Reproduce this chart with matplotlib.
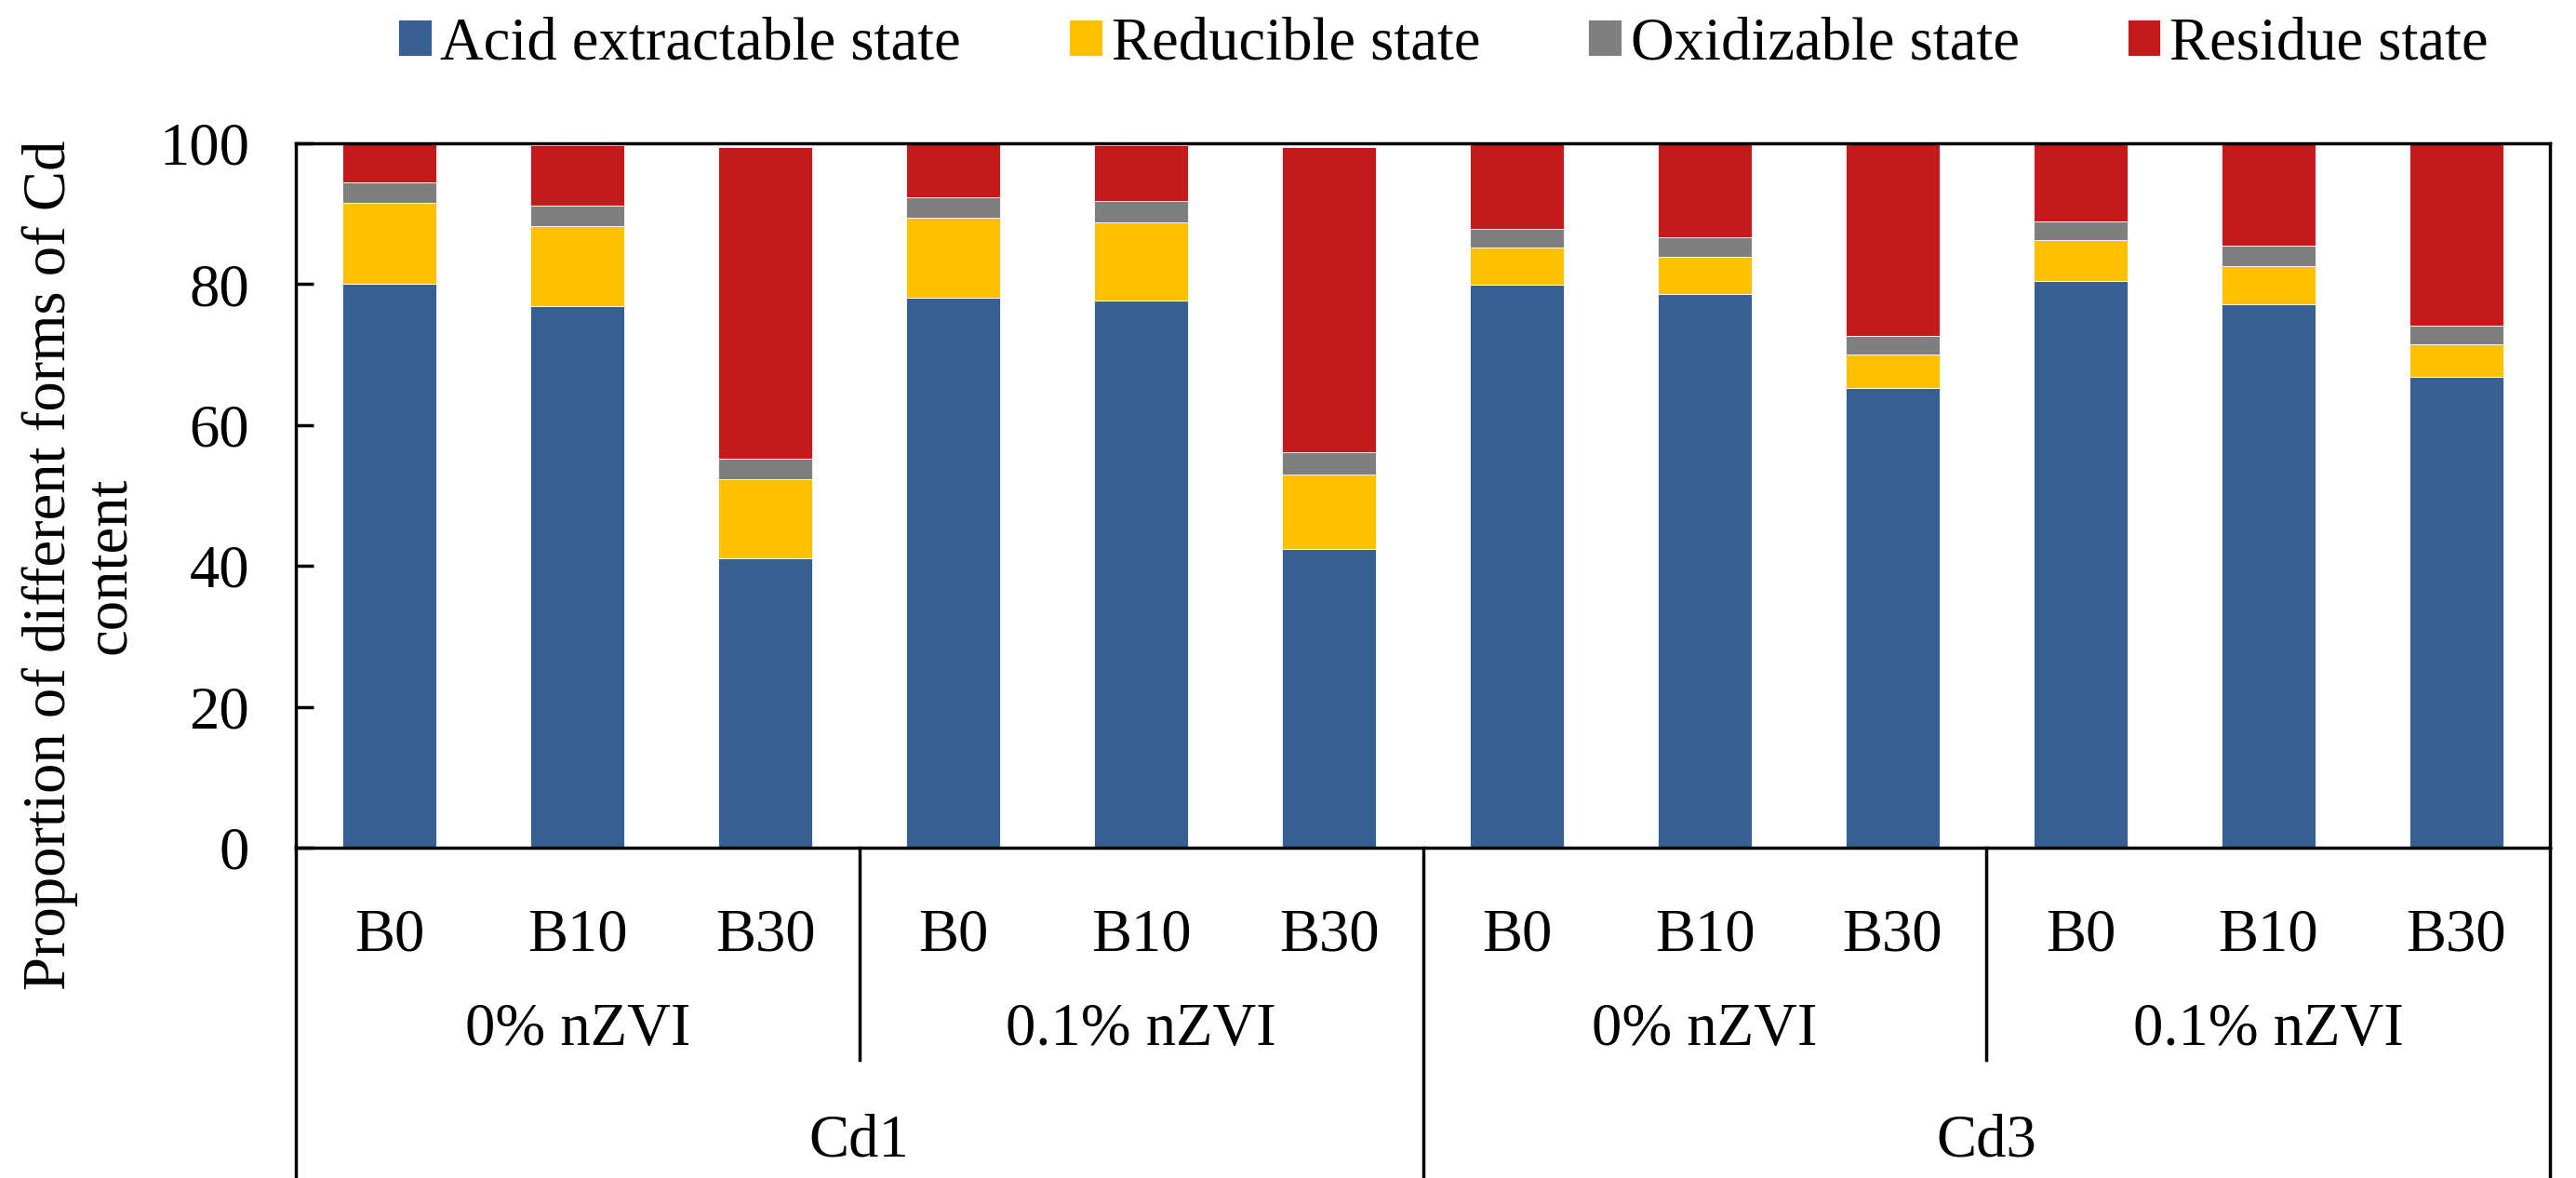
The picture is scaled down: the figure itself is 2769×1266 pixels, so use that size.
import matplotlib
matplotlib.use("Agg")
import matplotlib.pyplot as plt
import numpy as np

# DATA (percent of total Cd)
biochar = ['B0', 'B10', 'B30'] * 4
nzvi = ['0% nZVI', '0.1% nZVI', '0% nZVI', '0.1% nZVI']
cd_level = ['Cd1', 'Cd3']
series_names = ['Acid extractable state', 'Reducible state',
                'Oxidizable state', 'Residue state']
acid = [80.0, 76.9, 41.1, 78.1, 77.7, 42.4, 79.9, 78.6, 65.2, 80.5, 77.2, 66.8]
reducible = [11.5, 11.4, 11.2, 11.3, 11.0, 10.6, 5.3, 5.3, 4.8, 5.8, 5.4, 4.7]
oxidizable = [2.9, 2.9, 2.9, 2.9, 3.1, 3.1, 2.7, 2.7, 2.6, 2.6, 2.8, 2.6]
residue = [5.6, 8.5, 44.3, 7.7, 7.9, 43.4, 12.1, 13.4, 27.4, 11.1, 14.6, 25.9]
colors = ['#376092', '#FFC000', '#7F7F7F', '#C41A1B']

plt.rcParams['font.family'] = ['Liberation Serif', 'DejaVu Serif']
FS = 46.5

fig = plt.figure(figsize=(27.69, 12.66), dpi=100)
ax = fig.add_axes([0.1148, 0.2804, 0.8752, 0.598])

x = np.arange(len(biochar))
bottom = np.zeros(len(x))
for name, vals, c in zip(series_names, [acid, reducible, oxidizable, residue], colors):
    ax.bar(x, vals, 0.5, bottom=bottom, color=c, label=name,
           edgecolor='white', linewidth=0.6)
    bottom += np.array(vals)

ax.set_xlim(-0.5, 11.5)
ax.set_ylim(0, 100)
ax.set_yticks(range(0, 101, 20))
ax.tick_params(axis='y', direction='in', length=14, width=2.5, labelsize=FS, pad=36)
ax.set_xticks([])
for s in ax.spines.values():
    s.set_linewidth(2.5)

# multi-level category axis
tr = ax.get_xaxis_transform()
for i, lab in enumerate(biochar):
    ax.text(i, -0.125, lab, transform=tr, ha='center', va='center', fontsize=FS)
for j, lab in enumerate(nzvi):
    ax.text(3 * j + 1, -0.259, lab, transform=tr, ha='center', va='center', fontsize=FS)
for k, lab in enumerate(cd_level):
    ax.text(6 * k + 2.5, -0.417, lab, transform=tr, ha='center', va='center', fontsize=FS)
for xs in [2.5, 8.5]:
    ax.plot([xs, xs], [0, -0.301], transform=tr, color='black', lw=2.5, clip_on=False)
for xs in [-0.5, 5.5, 11.5]:
    ax.plot([xs, xs], [0, -0.475], transform=tr, color='black', lw=2.5, clip_on=False)

fig.text(0.031, 0.52, 'Proportion of different forms of Cd\ncontent', rotation=90,
         ha='center', va='center', multialignment='center', fontsize=FS,
         linespacing=1.1)

ax.legend(loc='center', bbox_to_anchor=(0.509, 1.14), ncol=4, frameon=False,
          fontsize=FS, handlelength=0.55, handleheight=0.55, handletextpad=0.15,
          columnspacing=1.8, borderaxespad=0)

fig.savefig('out.png', dpi=100)
